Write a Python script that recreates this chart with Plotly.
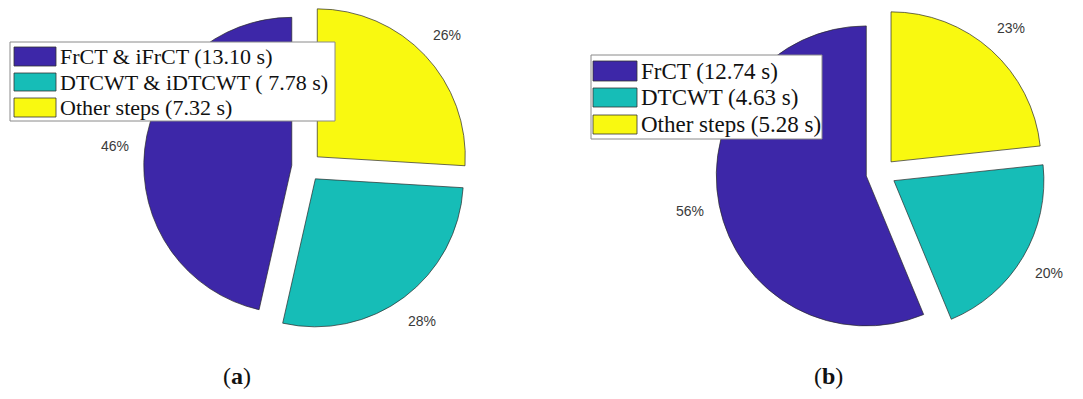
import math
import plotly.graph_objects as go

# ---- data ----
labels_a = ["FrCT & iFrCT", "DTCWT & iDTCWT", "Other steps"]
times_a = [13.10, 7.78, 7.32]
legend_a = ["FrCT & iFrCT (13.10 s)", "DTCWT & iDTCWT ( 7.78 s)", "Other steps (7.32 s)"]

labels_b = ["FrCT", "DTCWT", "Other steps"]
times_b = [12.74, 4.63, 5.28]
legend_b = ["FrCT (12.74 s)", "DTCWT (4.63 s)", "Other steps (5.28 s)"]

captions = ["a", "b"]

# ---- style ----
colors = ["#3D27A8", "#16BDB7", "#F9F910"]
W, H = 1083, 399
PULL = 0.1
edge = dict(color="#2a2a2a", width=0.7)
pct_font = dict(family="Liberation Sans, Arial", size=14, color="#3a3a3a")
serif = "Liberation Serif, Times New Roman, serif"

fig = go.Figure()
annotations = []
shapes = []


def add_pie(labels, vals, cx, cy, r):
    half = r * (1 + PULL)
    d = dict(x=[(cx - half) / W, (cx + half) / W],
             y=[1 - (cy + half) / H, 1 - (cy - half) / H])
    # MATLAB draws the first slice counter-clockwise from 12 o'clock;
    # equivalently, clockwise with the order reversed.
    fig.add_trace(go.Pie(
        labels=labels[::-1], values=vals[::-1], sort=False, direction="clockwise",
        rotation=0, pull=[PULL] * len(vals),
        marker=dict(colors=colors[::-1], line=edge),
        textinfo="none", domain=d, showlegend=False, hoverinfo="skip"))
    # percentage labels, MATLAB style: 1.2 r from the exploded slice centre
    total = sum(vals)
    start = 0.0
    for v in vals:
        frac = v / total
        mid = 2 * math.pi * (start + frac / 2)
        ux, uy = -math.sin(mid), -math.cos(mid)   # counter-clockwise from top, screen coords
        px = cx + ux * (PULL * r + 1.2 * r)
        py = cy + uy * (PULL * r + 1.2 * r)
        annotations.append(dict(xref="paper", yref="paper", x=px / W, y=1 - py / H,
                                xanchor="center", yanchor="middle", showarrow=False,
                                text=f"{round(frac * 100)}%", font=pct_font))
        start += frac


add_pie(labels_a, times_a, 306.5, 167, 148)
add_pie(labels_b, times_b, 881, 173, 150)


def add_legend(box, sw_x, rows, text_x, texts, fsize):
    x0, y0, x1, y1 = box
    shapes.append(dict(type="rect", xref="paper", yref="paper", layer="above",
                       x0=x0 / W, x1=x1 / W, y0=1 - y1 / H, y1=1 - y0 / H,
                       fillcolor="white", line=dict(color="#8a8a8a", width=1)))
    for (ra, rb), txt, col in zip(rows, texts, colors):
        shapes.append(dict(type="rect", xref="paper", yref="paper", layer="above",
                           x0=sw_x[0] / W, x1=sw_x[1] / W, y0=1 - rb / H, y1=1 - ra / H,
                           fillcolor=col, line=dict(color="#333333", width=0.8)))
        annotations.append(dict(xref="paper", yref="paper", x=text_x / W,
                                y=1 - (ra + rb) / 2 / H, xanchor="left", yanchor="middle",
                                text=txt, showarrow=False,
                                font=dict(family=serif, size=fsize, color="#111111")))


add_legend((10, 42, 335, 121), (14, 56), [(47, 66), (73, 91), (98, 117)], 58, legend_a, 22)
add_legend((591, 55, 822, 139), (593, 637), [(61, 81), (88, 107), (115, 134)], 639, legend_b, 23)

for cap, cx in zip(captions, [237, 828]):
    annotations.append(dict(xref="paper", yref="paper", x=cx / W, y=1 - 376 / H,
                            xanchor="center", yanchor="middle", showarrow=False,
                            text=f"(<b>{cap}</b>)",
                            font=dict(family=serif, size=24, color="#111111")))

fig.update_layout(width=W, height=H, margin=dict(l=0, r=0, t=0, b=0),
                  paper_bgcolor="white", plot_bgcolor="white",
                  shapes=shapes, annotations=annotations)
fig.write_html("out.html")
